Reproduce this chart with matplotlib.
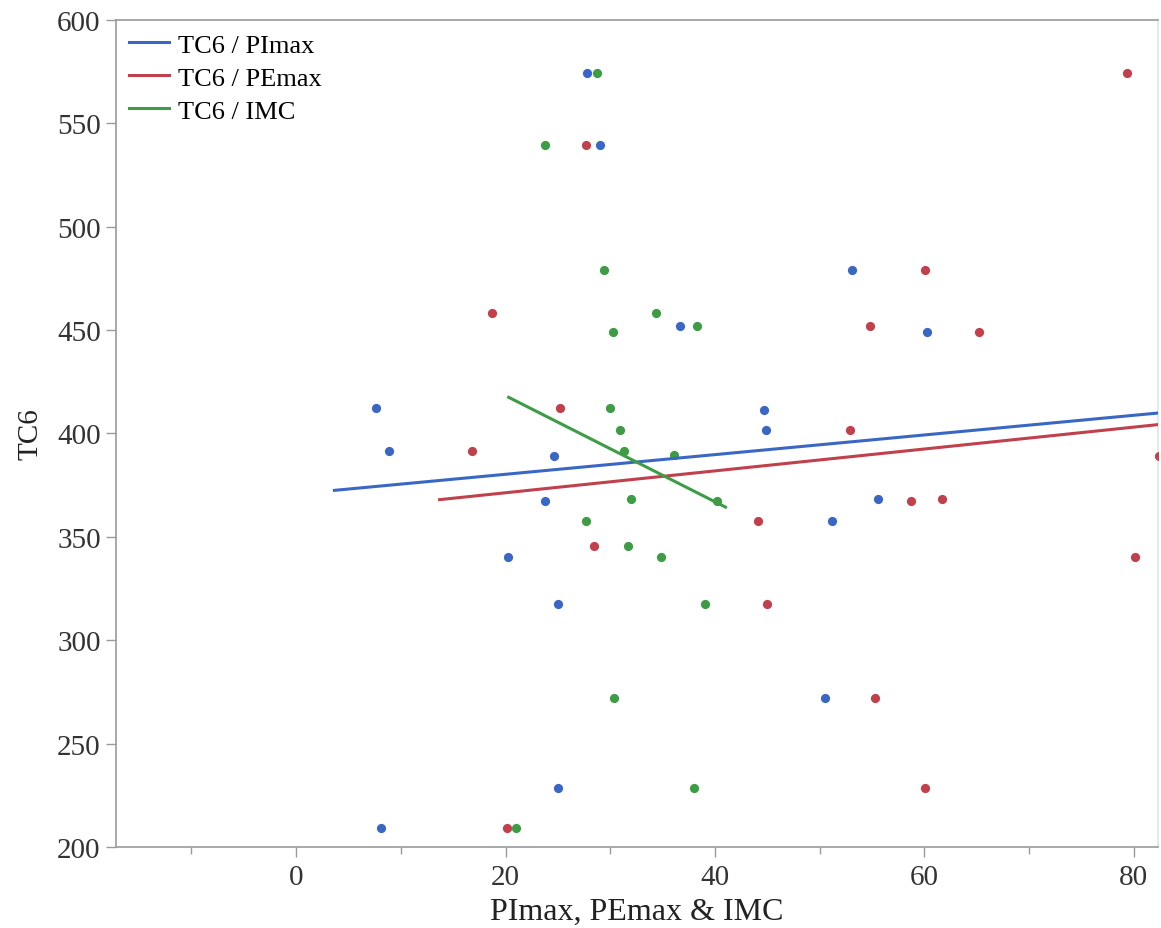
import matplotlib
matplotlib.use('Agg')
import matplotlib.pyplot as plt
from matplotlib.ticker import MultipleLocator

# TC6 values (shared y) and the three predictors
pimax_x = [27.8, 29.0, 53.1, 36.7, 60.2, 7.6, 44.7, 44.9, 8.9, 24.6, 23.8, 55.6, 51.2, 20.2, 25.0, 50.5, 25.0, 8.1]
pimax_y = [574.4, 539.5, 479.0, 452.1, 449.2, 412.4, 411.6, 401.5, 391.6, 389.0, 367.3, 368.1, 357.5, 340.4, 317.3, 272.2, 228.6, 209.3]

pemax_x = [79.3, 27.7, 60.1, 18.7, 54.8, 65.2, 25.2, 52.9, 16.8, 82.4, 58.7, 61.7, 44.1, 28.4, 80.1, 45.0, 55.3, 60.1, 20.1]
pemax_y = [574.4, 539.5, 479.0, 458.3, 452.1, 449.2, 412.4, 401.5, 391.6, 389.0, 367.3, 368.1, 357.5, 345.8, 340.4, 317.3, 272.2, 228.6, 209.3]

imc_x = [28.7, 23.8, 29.4, 34.4, 38.3, 30.3, 30.0, 30.9, 31.3, 36.1, 32.0, 40.2, 27.7, 31.7, 34.8, 39.0, 30.4, 38.0, 21.0]
imc_y = [574.4, 539.5, 479.0, 458.3, 452.1, 449.2, 412.1, 401.5, 391.6, 389.5, 368.1, 367.3, 357.5, 345.8, 340.4, 317.3, 272.2, 228.6, 209.3]

# fitted lines (end points)
fit_pimax_x = [3.66, 82.3]
fit_pimax_y = [372.5, 409.9]
fit_pemax_x = [13.7, 82.3]
fit_pemax_y = [368.0, 404.3]
fit_imc_x = [20.3, 41.0]
fit_imc_y = [417.5, 364.4]

labels = ['TC6 / PImax', 'TC6 / PEmax', 'TC6 / IMC']
c_blue = '#3b67c4'
c_red = '#c0404c'
c_green = '#3d9c45'

plt.rcParams['font.family'] = ['Liberation Serif', 'DejaVu Serif']

fig = plt.figure(figsize=(11.61, 9.29), dpi=100)
ax = fig.add_axes([0.0999, 0.0872, 0.8975, 0.8902])

ax.scatter(pimax_x, pimax_y, s=44, color=c_blue, zorder=3, linewidths=0)
ax.scatter(pemax_x, pemax_y, s=44, color=c_red, zorder=3, linewidths=0)
ax.scatter(imc_x, imc_y, s=44, color=c_green, zorder=3, linewidths=0)

ax.plot(fit_pimax_x, fit_pimax_y, color=c_blue, lw=2.2, label=labels[0], zorder=4)
ax.plot(fit_pemax_x, fit_pemax_y, color=c_red, lw=2.2, label=labels[1], zorder=4)
ax.plot(fit_imc_x, fit_imc_y, color=c_green, lw=2.2, label=labels[2], zorder=4)

ax.set_xlim(-17.2, 82.3)
ax.set_ylim(200, 600)
ax.xaxis.set_major_locator(MultipleLocator(20))
ax.xaxis.set_minor_locator(MultipleLocator(10))
ax.yaxis.set_major_locator(MultipleLocator(50))

for s in ax.spines.values():
    s.set_color('#9a9a9a')
    s.set_linewidth(1.2)
ax.spines['right'].set_color('#e4e4e4')

ax.tick_params(axis='both', which='major', length=7, width=1, color='#9a9a9a',
               labelsize=21, labelcolor='#333333', pad=4)
ax.tick_params(axis='x', which='major', pad=5)
ax.tick_params(axis='x', which='minor', length=5, width=1, color='#9a9a9a')

ax.set_xlabel('PImax, PEmax & IMC', fontsize=23, color='#222222', labelpad=5)
ax.set_ylabel('TC6', fontsize=21, color='#222222', labelpad=10)

ax.legend(loc='upper left', frameon=False, fontsize=19, handlelength=1.5,
          handletextpad=0.35, labelspacing=0.36, borderaxespad=0.2,
          borderpad=0.3, bbox_to_anchor=(0.0, 1.0))

fig.savefig('out.png', dpi=100)
